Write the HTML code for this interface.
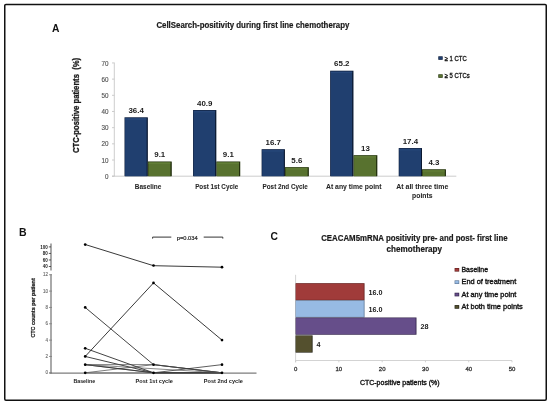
<!DOCTYPE html>
<html><head><meta charset="utf-8"><style>
html,body{margin:0;padding:0;background:#fff;width:550px;height:404px;overflow:hidden}
svg{display:block;will-change:transform}
text{font-family:"Liberation Sans", sans-serif}
</style></head><body>
<svg width="550" height="404" viewBox="0 0 550 404">
<rect x="4.75" y="4.4" width="541.5" height="395.9" rx="1.2" fill="none" stroke="#111" stroke-width="1.5"/>
<text x="52.00" y="32.30" font-size="10.3" font-weight="bold" fill="#111" text-anchor="start" >A</text>
<text x="156.40" y="27.50" font-size="8.7" font-weight="bold" fill="#1a1a1a" text-anchor="start" textLength="193" lengthAdjust="spacingAndGlyphs" stroke="#1a1a1a" stroke-width="0.2" >CellSearch-positivity during first line chemotherapy</text>
<text transform="translate(79.4,153.0) rotate(-90)" font-size="8.4" font-weight="bold" fill="#1a1a1a" stroke="#1a1a1a" stroke-width="0.3" textLength="95.1" lengthAdjust="spacingAndGlyphs" xml:space="preserve">CTC-positive patients  (%)</text>
<line x1="114.30" y1="62.60" x2="114.30" y2="176.20" stroke="#c0c0c0" stroke-width="0.8"/>
<line x1="112.00" y1="176.20" x2="114.30" y2="176.20" stroke="#c0c0c0" stroke-width="0.8"/>
<text x="108.40" y="178.80" font-size="6.3" font-weight="normal" fill="#555" text-anchor="end" stroke="#555" stroke-width="0.15" >0</text>
<line x1="112.00" y1="160.02" x2="114.30" y2="160.02" stroke="#c0c0c0" stroke-width="0.8"/>
<text x="108.40" y="162.62" font-size="6.3" font-weight="normal" fill="#555" text-anchor="end" stroke="#555" stroke-width="0.15" >10</text>
<line x1="112.00" y1="143.84" x2="114.30" y2="143.84" stroke="#c0c0c0" stroke-width="0.8"/>
<text x="108.40" y="146.44" font-size="6.3" font-weight="normal" fill="#555" text-anchor="end" stroke="#555" stroke-width="0.15" >20</text>
<line x1="112.00" y1="127.66" x2="114.30" y2="127.66" stroke="#c0c0c0" stroke-width="0.8"/>
<text x="108.40" y="130.26" font-size="6.3" font-weight="normal" fill="#555" text-anchor="end" stroke="#555" stroke-width="0.15" >30</text>
<line x1="112.00" y1="111.48" x2="114.30" y2="111.48" stroke="#c0c0c0" stroke-width="0.8"/>
<text x="108.40" y="114.08" font-size="6.3" font-weight="normal" fill="#555" text-anchor="end" stroke="#555" stroke-width="0.15" >40</text>
<line x1="112.00" y1="95.30" x2="114.30" y2="95.30" stroke="#c0c0c0" stroke-width="0.8"/>
<text x="108.40" y="97.90" font-size="6.3" font-weight="normal" fill="#555" text-anchor="end" stroke="#555" stroke-width="0.15" >50</text>
<line x1="112.00" y1="79.12" x2="114.30" y2="79.12" stroke="#c0c0c0" stroke-width="0.8"/>
<text x="108.40" y="81.72" font-size="6.3" font-weight="normal" fill="#555" text-anchor="end" stroke="#555" stroke-width="0.15" >60</text>
<line x1="112.00" y1="62.94" x2="114.30" y2="62.94" stroke="#c0c0c0" stroke-width="0.8"/>
<text x="108.40" y="65.54" font-size="6.3" font-weight="normal" fill="#555" text-anchor="end" stroke="#555" stroke-width="0.15" >70</text>
<line x1="112.00" y1="176.20" x2="456.30" y2="176.20" stroke="#c0c0c0" stroke-width="0.8"/>
<rect x="124.50" y="117.30" width="23.30" height="58.90" fill="#0e1f3d"/>
<rect x="125.10" y="117.90" width="21.70" height="58.30" fill="#203f6f"/>
<rect x="125.10" y="118.70" width="21.70" height="0.80" fill="#2b4d80"/>
<rect x="146.80" y="117.90" width="0.60" height="58.30" fill="#0a1528"/>
<rect x="147.80" y="161.48" width="23.90" height="14.72" fill="#26350f"/>
<rect x="148.40" y="162.08" width="22.30" height="14.12" fill="#58722f"/>
<rect x="148.40" y="162.88" width="22.30" height="0.80" fill="#66833a"/>
<rect x="170.70" y="162.08" width="0.60" height="14.12" fill="#1a240a"/>
<text x="136.15" y="112.80" font-size="7.9" font-weight="bold" fill="#1a1a1a" text-anchor="middle" >36.4</text>
<text x="159.75" y="156.98" font-size="7.9" font-weight="bold" fill="#1a1a1a" text-anchor="middle" >9.1</text>
<rect x="193.05" y="110.02" width="23.30" height="66.18" fill="#0e1f3d"/>
<rect x="193.65" y="110.62" width="21.70" height="65.58" fill="#203f6f"/>
<rect x="193.65" y="111.42" width="21.70" height="0.80" fill="#2b4d80"/>
<rect x="215.35" y="110.62" width="0.60" height="65.58" fill="#0a1528"/>
<rect x="216.35" y="161.48" width="23.90" height="14.72" fill="#26350f"/>
<rect x="216.95" y="162.08" width="22.30" height="14.12" fill="#58722f"/>
<rect x="216.95" y="162.88" width="22.30" height="0.80" fill="#66833a"/>
<rect x="239.25" y="162.08" width="0.60" height="14.12" fill="#1a240a"/>
<text x="204.70" y="105.52" font-size="7.9" font-weight="bold" fill="#1a1a1a" text-anchor="middle" >40.9</text>
<text x="228.30" y="156.98" font-size="7.9" font-weight="bold" fill="#1a1a1a" text-anchor="middle" >9.1</text>
<rect x="261.60" y="149.18" width="23.30" height="27.02" fill="#0e1f3d"/>
<rect x="262.20" y="149.78" width="21.70" height="26.42" fill="#203f6f"/>
<rect x="262.20" y="150.58" width="21.70" height="0.80" fill="#2b4d80"/>
<rect x="283.90" y="149.78" width="0.60" height="26.42" fill="#0a1528"/>
<rect x="284.90" y="167.14" width="23.90" height="9.06" fill="#26350f"/>
<rect x="285.50" y="167.74" width="22.30" height="8.46" fill="#58722f"/>
<rect x="285.50" y="168.54" width="22.30" height="0.80" fill="#66833a"/>
<rect x="307.80" y="167.74" width="0.60" height="8.46" fill="#1a240a"/>
<text x="273.25" y="144.68" font-size="7.9" font-weight="bold" fill="#1a1a1a" text-anchor="middle" >16.7</text>
<text x="296.85" y="162.64" font-size="7.9" font-weight="bold" fill="#1a1a1a" text-anchor="middle" >5.6</text>
<rect x="330.15" y="70.71" width="23.30" height="105.49" fill="#0e1f3d"/>
<rect x="330.75" y="71.31" width="21.70" height="104.89" fill="#203f6f"/>
<rect x="330.75" y="72.11" width="21.70" height="0.80" fill="#2b4d80"/>
<rect x="352.45" y="71.31" width="0.60" height="104.89" fill="#0a1528"/>
<rect x="353.45" y="155.17" width="23.90" height="21.03" fill="#26350f"/>
<rect x="354.05" y="155.77" width="22.30" height="20.43" fill="#58722f"/>
<rect x="354.05" y="156.57" width="22.30" height="0.80" fill="#66833a"/>
<rect x="376.35" y="155.77" width="0.60" height="20.43" fill="#1a240a"/>
<text x="341.80" y="66.21" font-size="7.9" font-weight="bold" fill="#1a1a1a" text-anchor="middle" >65.2</text>
<text x="365.40" y="150.67" font-size="7.9" font-weight="bold" fill="#1a1a1a" text-anchor="middle" >13</text>
<rect x="398.70" y="148.05" width="23.30" height="28.15" fill="#0e1f3d"/>
<rect x="399.30" y="148.65" width="21.70" height="27.55" fill="#203f6f"/>
<rect x="399.30" y="149.45" width="21.70" height="0.80" fill="#2b4d80"/>
<rect x="421.00" y="148.65" width="0.60" height="27.55" fill="#0a1528"/>
<rect x="422.00" y="169.24" width="23.90" height="6.96" fill="#26350f"/>
<rect x="422.60" y="169.84" width="22.30" height="6.36" fill="#58722f"/>
<rect x="422.60" y="170.64" width="22.30" height="0.80" fill="#66833a"/>
<rect x="444.90" y="169.84" width="0.60" height="6.36" fill="#1a240a"/>
<text x="410.35" y="143.55" font-size="7.9" font-weight="bold" fill="#1a1a1a" text-anchor="middle" >17.4</text>
<text x="433.95" y="164.74" font-size="7.9" font-weight="bold" fill="#1a1a1a" text-anchor="middle" >4.3</text>
<text x="148.10" y="188.90" font-size="6.8" font-weight="bold" fill="#262626" text-anchor="middle" textLength="26.5" lengthAdjust="spacingAndGlyphs" stroke="#262626" stroke-width="0.05" >Baseline</text>
<text x="216.65" y="188.90" font-size="6.8" font-weight="bold" fill="#262626" text-anchor="middle" textLength="43" lengthAdjust="spacingAndGlyphs" stroke="#262626" stroke-width="0.05" >Post 1st Cycle</text>
<text x="285.20" y="188.90" font-size="6.8" font-weight="bold" fill="#262626" text-anchor="middle" textLength="45.3" lengthAdjust="spacingAndGlyphs" stroke="#262626" stroke-width="0.05" >Post 2nd Cycle</text>
<text x="353.75" y="188.90" font-size="6.8" font-weight="bold" fill="#262626" text-anchor="middle" textLength="55.5" lengthAdjust="spacingAndGlyphs" stroke="#262626" stroke-width="0.05" >At any time point</text>
<text x="422.30" y="188.90" font-size="6.8" font-weight="bold" fill="#262626" text-anchor="middle" textLength="52" lengthAdjust="spacingAndGlyphs" stroke="#262626" stroke-width="0.05" >At all three time</text>
<text x="422.30" y="197.90" font-size="6.8" font-weight="bold" fill="#262626" text-anchor="middle" textLength="20.4" lengthAdjust="spacingAndGlyphs" stroke="#262626" stroke-width="0.05" >points</text>
<rect x="438.30" y="56.30" width="4.40" height="3.50" fill="#0e1f3d"/>
<rect x="438.90" y="56.90" width="3.20" height="2.30" fill="#203f6f"/>
<text x="444.70" y="60.50" font-size="6.9" font-weight="normal" fill="#111" text-anchor="start" textLength="22.1" lengthAdjust="spacingAndGlyphs" stroke="#111" stroke-width="0.3" >≥ 1 CTC</text>
<rect x="438.30" y="74.30" width="4.40" height="3.50" fill="#26350f"/>
<rect x="438.90" y="74.90" width="3.20" height="2.30" fill="#58722f"/>
<text x="444.70" y="78.40" font-size="6.9" font-weight="normal" fill="#111" text-anchor="start" textLength="25.0" lengthAdjust="spacingAndGlyphs" stroke="#111" stroke-width="0.3" >≥ 5 CTCs</text>
<text x="19.10" y="235.60" font-size="10.5" font-weight="bold" fill="#111" text-anchor="start" >B</text>
<line x1="51.00" y1="243.50" x2="51.00" y2="270.60" stroke="#7c7c7c" stroke-width="1.3"/>
<line x1="51.00" y1="274.20" x2="51.00" y2="373.60" stroke="#7c7c7c" stroke-width="1.3"/>
<line x1="48.80" y1="246.90" x2="51.00" y2="246.90" stroke="#333" stroke-width="0.8"/>
<text x="47.80" y="248.50" font-size="4.5" font-weight="bold" fill="#1a1a1a" text-anchor="end" >100</text>
<line x1="48.80" y1="253.43" x2="51.00" y2="253.43" stroke="#333" stroke-width="0.8"/>
<text x="47.80" y="255.03" font-size="4.5" font-weight="bold" fill="#1a1a1a" text-anchor="end" >80</text>
<line x1="48.80" y1="259.97" x2="51.00" y2="259.97" stroke="#333" stroke-width="0.8"/>
<text x="47.80" y="261.57" font-size="4.5" font-weight="bold" fill="#1a1a1a" text-anchor="end" >60</text>
<line x1="48.80" y1="266.50" x2="51.00" y2="266.50" stroke="#333" stroke-width="0.8"/>
<text x="47.80" y="268.10" font-size="4.5" font-weight="bold" fill="#1a1a1a" text-anchor="end" >40</text>
<line x1="49.00" y1="372.80" x2="52.00" y2="372.80" stroke="#7c7c7c" stroke-width="0.8"/>
<text x="48.00" y="374.40" font-size="4.5" font-weight="normal" fill="#666" text-anchor="end" stroke="#666" stroke-width="0.1" >0</text>
<line x1="49.00" y1="356.46" x2="52.00" y2="356.46" stroke="#7c7c7c" stroke-width="0.8"/>
<text x="48.00" y="358.06" font-size="4.5" font-weight="normal" fill="#666" text-anchor="end" stroke="#666" stroke-width="0.1" >2</text>
<line x1="49.00" y1="340.12" x2="52.00" y2="340.12" stroke="#7c7c7c" stroke-width="0.8"/>
<text x="48.00" y="341.72" font-size="4.5" font-weight="normal" fill="#666" text-anchor="end" stroke="#666" stroke-width="0.1" >4</text>
<line x1="49.00" y1="323.78" x2="52.00" y2="323.78" stroke="#7c7c7c" stroke-width="0.8"/>
<text x="48.00" y="325.38" font-size="4.5" font-weight="normal" fill="#666" text-anchor="end" stroke="#666" stroke-width="0.1" >6</text>
<line x1="49.00" y1="307.44" x2="52.00" y2="307.44" stroke="#7c7c7c" stroke-width="0.8"/>
<text x="48.00" y="309.04" font-size="4.5" font-weight="normal" fill="#666" text-anchor="end" stroke="#666" stroke-width="0.1" >8</text>
<line x1="49.00" y1="291.10" x2="52.00" y2="291.10" stroke="#7c7c7c" stroke-width="0.8"/>
<text x="48.00" y="292.70" font-size="4.5" font-weight="normal" fill="#666" text-anchor="end" stroke="#666" stroke-width="0.1" >10</text>
<line x1="49.00" y1="274.76" x2="52.00" y2="274.76" stroke="#7c7c7c" stroke-width="0.8"/>
<text x="48.00" y="276.36" font-size="4.5" font-weight="normal" fill="#666" text-anchor="end" stroke="#666" stroke-width="0.1" >12</text>
<line x1="49.40" y1="373.10" x2="256.50" y2="373.10" stroke="#7c7c7c" stroke-width="1.3"/>
<text transform="translate(35.0,337.6) rotate(-90)" font-size="5.2" font-weight="bold" fill="#1a1a1a" stroke="#1a1a1a" stroke-width="0.22" textLength="59.3" lengthAdjust="spacingAndGlyphs">CTC counts per patient</text>
<text x="84.30" y="383.00" font-size="5.3" font-weight="bold" fill="#1a1a1a" text-anchor="middle" textLength="21.8" lengthAdjust="spacingAndGlyphs" >Baseline</text>
<text x="154.20" y="383.00" font-size="5.3" font-weight="bold" fill="#1a1a1a" text-anchor="middle" textLength="37.2" lengthAdjust="spacingAndGlyphs" >Post 1st cycle</text>
<text x="223.30" y="383.00" font-size="5.3" font-weight="bold" fill="#1a1a1a" text-anchor="middle" textLength="39" lengthAdjust="spacingAndGlyphs" >Post 2nd cycle</text>
<path d="M152.6 238.6 L152.6 237.1 L171.3 237.1 M203.7 237.1 L222.8 237.1 L222.8 238.6" stroke="#333" stroke-width="1" fill="none"/>
<text x="176.80" y="239.60" font-size="5.3" font-weight="normal" fill="#2a2a2a" text-anchor="start" textLength="20.9" lengthAdjust="spacingAndGlyphs" stroke="#2a2a2a" stroke-width="0.2" >p=0.034</text>
<polyline points="85.20,244.50 153.50,265.70 222.00,267.20" fill="none" stroke="#222" stroke-width="0.9"/>
<polyline points="85.20,307.44 153.50,364.63 222.00,372.80" fill="none" stroke="#222" stroke-width="0.85"/>
<polyline points="85.20,356.46 153.50,282.93 222.00,340.12" fill="none" stroke="#222" stroke-width="0.9"/>
<polyline points="85.20,348.29 153.50,372.80 222.00,372.80" fill="none" stroke="#222" stroke-width="0.85"/>
<polyline points="85.20,356.46 153.50,372.80 222.00,372.80" fill="none" stroke="#222" stroke-width="0.85"/>
<polyline points="85.20,364.63 153.50,364.63 222.00,372.80" fill="none" stroke="#444" stroke-width="0.7"/>
<polyline points="85.20,372.80 153.50,364.63 222.00,372.80" fill="none" stroke="#444" stroke-width="0.7"/>
<polyline points="85.20,364.63 153.50,372.80 222.00,364.63" fill="none" stroke="#333" stroke-width="0.8"/>
<polyline points="85.20,372.80 153.50,372.80 222.00,372.80" fill="none" stroke="#666" stroke-width="0.7"/>
<polyline points="85.20,364.63 153.50,372.80 222.00,372.80" fill="none" stroke="#333" stroke-width="0.8"/>
<polyline points="85.20,364.63 222.00,372.80" fill="none" stroke="#555" stroke-width="0.7"/>
<circle cx="85.2" cy="244.61" r="1.35" fill="#000"/>
<circle cx="153.5" cy="265.52" r="1.35" fill="#000"/>
<circle cx="222.0" cy="267.16" r="1.35" fill="#000"/>
<circle cx="85.2" cy="307.44" r="1.35" fill="#000"/>
<circle cx="85.2" cy="348.29" r="1.35" fill="#000"/>
<circle cx="85.2" cy="356.46" r="1.35" fill="#000"/>
<circle cx="85.2" cy="364.63" r="1.35" fill="#000"/>
<circle cx="85.2" cy="372.80" r="1.35" fill="#000"/>
<circle cx="153.5" cy="282.93" r="1.35" fill="#000"/>
<circle cx="153.5" cy="364.63" r="1.35" fill="#000"/>
<circle cx="153.5" cy="372.80" r="1.35" fill="#000"/>
<circle cx="222.0" cy="340.12" r="1.35" fill="#000"/>
<circle cx="222.0" cy="364.63" r="1.35" fill="#000"/>
<circle cx="222.0" cy="372.80" r="1.35" fill="#000"/>
<text x="270.50" y="239.50" font-size="10.3" font-weight="bold" fill="#111" text-anchor="start" >C</text>
<text x="414.40" y="241.10" font-size="8.3" font-weight="bold" fill="#1a1a1a" text-anchor="middle" textLength="186.4" lengthAdjust="spacingAndGlyphs" stroke="#1a1a1a" stroke-width="0.2" >CEACAM5mRNA positivity pre- and post- first line</text>
<text x="414.30" y="251.70" font-size="8.3" font-weight="bold" fill="#1a1a1a" text-anchor="middle" textLength="55.5" lengthAdjust="spacingAndGlyphs" stroke="#1a1a1a" stroke-width="0.2" >chemotherapy</text>
<line x1="295.60" y1="274.80" x2="295.60" y2="362.30" stroke="#c8c8c8" stroke-width="0.8"/>
<line x1="295.60" y1="360.50" x2="512.00" y2="360.50" stroke="#c8c8c8" stroke-width="0.8"/>
<line x1="295.60" y1="360.50" x2="295.60" y2="362.30" stroke="#c8c8c8" stroke-width="0.8"/>
<text x="295.60" y="371.00" font-size="6.0" font-weight="normal" fill="#333" text-anchor="middle" stroke="#333" stroke-width="0.3" >0</text>
<line x1="338.88" y1="360.50" x2="338.88" y2="362.30" stroke="#c8c8c8" stroke-width="0.8"/>
<text x="338.88" y="371.00" font-size="6.0" font-weight="normal" fill="#333" text-anchor="middle" stroke="#333" stroke-width="0.3" >10</text>
<line x1="382.16" y1="360.50" x2="382.16" y2="362.30" stroke="#c8c8c8" stroke-width="0.8"/>
<text x="382.16" y="371.00" font-size="6.0" font-weight="normal" fill="#333" text-anchor="middle" stroke="#333" stroke-width="0.3" >20</text>
<line x1="425.44" y1="360.50" x2="425.44" y2="362.30" stroke="#c8c8c8" stroke-width="0.8"/>
<text x="425.44" y="371.00" font-size="6.0" font-weight="normal" fill="#333" text-anchor="middle" stroke="#333" stroke-width="0.3" >30</text>
<line x1="468.72" y1="360.50" x2="468.72" y2="362.30" stroke="#c8c8c8" stroke-width="0.8"/>
<text x="468.72" y="371.00" font-size="6.0" font-weight="normal" fill="#333" text-anchor="middle" stroke="#333" stroke-width="0.3" >40</text>
<line x1="512.00" y1="360.50" x2="512.00" y2="362.30" stroke="#c8c8c8" stroke-width="0.8"/>
<text x="512.00" y="371.00" font-size="6.0" font-weight="normal" fill="#333" text-anchor="middle" stroke="#333" stroke-width="0.3" >50</text>
<text x="399.80" y="384.60" font-size="7.0" font-weight="normal" fill="#111" text-anchor="middle" textLength="79.8" lengthAdjust="spacingAndGlyphs" stroke="#111" stroke-width="0.35" >CTC-positive patients (%)</text>
<rect x="295.60" y="283.20" width="68.95" height="17.20" fill="#62201f"/>
<rect x="295.90" y="283.80" width="67.85" height="16.00" fill="#a03b3a"/>
<text x="368.55" y="295.10" font-size="7.2" font-weight="bold" fill="#1a1a1a" text-anchor="start" >16.0</text>
<rect x="295.60" y="300.30" width="68.95" height="17.20" fill="#5a7494"/>
<rect x="295.90" y="300.90" width="67.85" height="16.00" fill="#97bae3"/>
<text x="368.55" y="312.20" font-size="7.2" font-weight="bold" fill="#1a1a1a" text-anchor="start" >16.0</text>
<rect x="295.60" y="317.50" width="120.88" height="17.20" fill="#2e1f45"/>
<rect x="295.90" y="318.10" width="119.78" height="16.00" fill="#664e8a"/>
<text x="420.48" y="329.40" font-size="7.2" font-weight="bold" fill="#1a1a1a" text-anchor="start" >28</text>
<rect x="295.60" y="335.40" width="17.01" height="17.20" fill="#1e1d10"/>
<rect x="295.90" y="336.00" width="15.91" height="16.00" fill="#54502e"/>
<text x="316.61" y="347.30" font-size="7.2" font-weight="bold" fill="#1a1a1a" text-anchor="start" >4</text>
<rect x="454.60" y="268.00" width="4.60" height="3.60" fill="#62201f"/>
<rect x="455.20" y="268.60" width="3.40" height="2.40" fill="#a03b3a"/>
<text x="461.50" y="272.10" font-size="7.1" font-weight="normal" fill="#111" text-anchor="start" textLength="26.5" lengthAdjust="spacingAndGlyphs" stroke="#111" stroke-width="0.35" >Baseline</text>
<rect x="454.60" y="280.37" width="4.60" height="3.60" fill="#5a7494"/>
<rect x="455.20" y="280.97" width="3.40" height="2.40" fill="#97bae3"/>
<text x="461.50" y="284.47" font-size="7.1" font-weight="normal" fill="#111" text-anchor="start" textLength="54.8" lengthAdjust="spacingAndGlyphs" stroke="#111" stroke-width="0.35" >End of treatment</text>
<rect x="454.60" y="292.74" width="4.60" height="3.60" fill="#2e1f45"/>
<rect x="455.20" y="293.34" width="3.40" height="2.40" fill="#664e8a"/>
<text x="461.50" y="296.84" font-size="7.1" font-weight="normal" fill="#111" text-anchor="start" textLength="54.8" lengthAdjust="spacingAndGlyphs" stroke="#111" stroke-width="0.35" >At any time point</text>
<rect x="454.60" y="305.11" width="4.60" height="3.60" fill="#1e1d10"/>
<rect x="455.20" y="305.71" width="3.40" height="2.40" fill="#54502e"/>
<text x="461.50" y="309.21" font-size="7.1" font-weight="normal" fill="#111" text-anchor="start" textLength="61.3" lengthAdjust="spacingAndGlyphs" stroke="#111" stroke-width="0.35" >At both time points</text>
</svg>
</body></html>
